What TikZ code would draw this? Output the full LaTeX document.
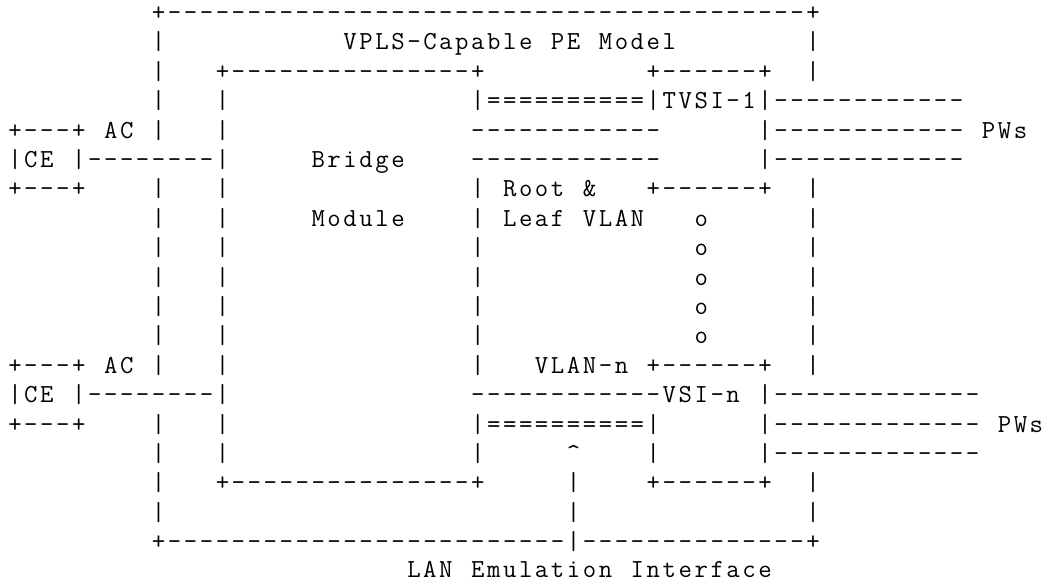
\documentclass[tikz,border=0pt]{standalone}
\makeatletter
\newcommand\asciiline[1]{\@tfor\asciich:=#1\do{\ifx\asciich\asciidot\hbox to\asciicw{}\else\hbox to\asciicw{\hss\asciich\hss}\fi}}
\makeatother
\def\asciidot{.}
\newlength\asciicw
\setlength\asciicw{15.96pt}
\tikzset{asciirow/.style={anchor=base west, inner sep=0pt, outer sep=0pt, text=black, font=\ttfamily\fontsize{26}{29.4}\selectfont}}
\newcommand\asciirow[2]{\node[asciirow] (row#1) at (7.02,{-(20.5+29.4*(#1-1))}) {\asciiline{#2}};}
\begin{document}
\begin{tikzpicture}[x=1pt,y=1pt]
\fill[white] (0,0) rectangle (1047,-582);
\useasboundingbox (0,0) rectangle (1047,-582);
\asciirow{1}{.........+----------------------------------------+}
\asciirow{2}{.........|...........VPLS-Capable.PE.Model........|}
\asciirow{3}{.........|...+---------------+..........+------+..|}
\asciirow{4}{.........|...|...............|==========|TVSI-1|------------}
\asciirow{5}{+---+.AC.|...|...............------------......|------------.PWs}
\asciirow{6}{|CE.|--------|.....Bridge....------------......|------------}
\asciirow{7}{+---+....|...|...............|.Root.\&...+------+..|}
\asciirow{8}{.........|...|.....Module....|.Leaf.VLAN...o......|}
\asciirow{9}{.........|...|...............|.............o......|}
\asciirow{10}{.........|...|...............|.............o......|}
\asciirow{11}{.........|...|...............|.............o......|}
\asciirow{12}{.........|...|...............|.............o......|}
\asciirow{13}{+---+.AC.|...|...............|...VLAN-n.+------+..|}
\asciirow{14}{|CE.|--------|...............------------VSI-n.|-------------}
\asciirow{15}{+---+....|...|...............|==========|......|-------------.PWs}
\asciirow{16}{.........|...|...............|.....\textasciicircum....|......|-------------}
\asciirow{17}{.........|...+---------------+.....|....+------+..|}
\asciirow{18}{.........|.........................|..............|}
\asciirow{19}{.........+-------------------------|--------------+}
\node[asciirow] (row20) at (7.02,-577.5) {\asciiline{.........................LAN.Emulation.Interface}};
\end{tikzpicture}
\end{document}
